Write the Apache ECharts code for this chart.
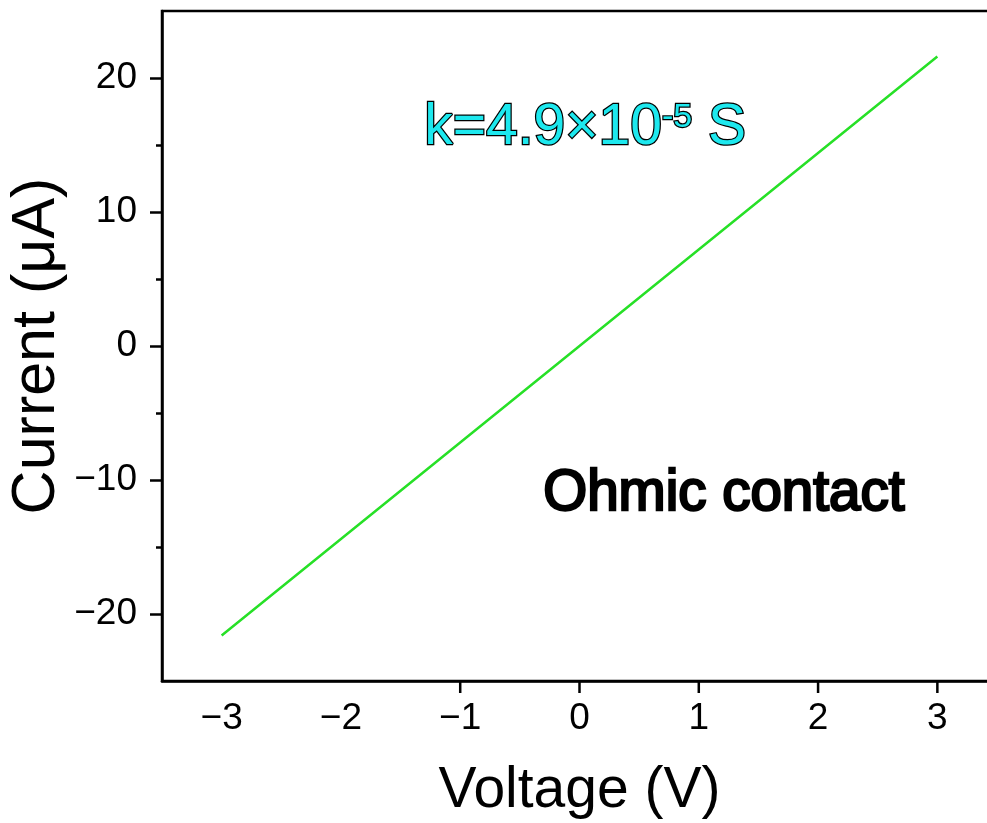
<!DOCTYPE html>
<html>
<head>
<meta charset="utf-8">
<script src="https://cdn.jsdelivr.net/npm/echarts@6/dist/echarts.min.js"></script>
<style>
	html, body { margin: 0; padding: 0; background: #fff; }
	#chart { width: 987px; height: 823px; }
</style>
</head>
<body>
<div id="chart"></div>
<script>
'use strict';

var voltage = [-3, -2, -1, 0, 1, 2, 3];
var current = [-21.6, -14.4, -7.2, 0, 7.2, 14.4, 21.6];
var xTicks = [-3, -2, -1, 0, 1, 2, 3];
var yTicks = [-20, -10, 0, 10, 20];
var yMinorTicks = [-15, -5, 5, 15];
var yMin = -25;

var FONT = 'Liberation Sans, Arial, sans-serif';

function minus(v) {
	return String(v).replace('-', '\u2212');
}

var chart = echarts.init(document.getElementById('chart'));

var points = voltage.map(function (v, i) {
	return [v, current[i]];
});

chart.setOption({
	animation: false,
	backgroundColor: '#fff',
	grid: {
		left: 162,
		width: 835,
		top: 11,
		bottom: 142,
		outerBoundsMode: 'none',
		containLabel: false,
		show: true,
		borderColor: '#000',
		borderWidth: 2.5,
		backgroundColor: 'transparent'
	},
	xAxis: {
		type: 'value',
		min: -3.5,
		max: 3.5,
		splitNumber: 7,
		name: 'Voltage (V)',
		nameLocation: 'middle',
		nameGap: 82,
		nameMoveOverlap: false,
		nameTextStyle: { fontFamily: FONT, fontSize: 57, color: '#000' },
		axisLine: { onZero: false, lineStyle: { color: '#000', width: 2.5 } },
		axisTick: { show: false },
		axisLabel: {
			fontFamily: FONT, fontSize: 37, color: '#000', margin: 19,
			showMinLabel: false, showMaxLabel: false,
			formatter: function (v) {
				return xTicks.indexOf(v) >= 0 ? minus(v) : '';
			}
		},
		splitLine: { show: false }
	},
	yAxis: [{
		type: 'value',
		min: yMin,
		max: 25,
		name: 'Current (\u03bcA)',
		nameLocation: 'middle',
		nameGap: 94,
		nameMoveOverlap: false,
		nameTextStyle: { fontFamily: FONT, fontSize: 61, color: '#000' },
		axisLine: { onZero: false, lineStyle: { color: '#000', width: 2.5 } },
		axisTick: { length: 12, inside: false, lineStyle: { width: 2.5, color: '#000' }, customValues: yTicks },
		axisLabel: { fontFamily: FONT, fontSize: 37, color: '#000', margin: 25, customValues: yTicks, formatter: minus },
		splitLine: { show: false }
	}, {
		type: 'value',
		position: 'left',
		min: yMin,
		max: 25,
		axisLine: { show: false, onZero: false },
		axisTick: { length: 6, inside: false, lineStyle: { width: 2.5, color: '#000' }, customValues: yMinorTicks },
		axisLabel: { show: false },
		splitLine: { show: false }
	}],
	series: [{
		type: 'line',
		data: points,
		showSymbol: false,
		lineStyle: { color: '#27e027', width: 2.5 },
		z: 3
	}],
	graphic: [{
		type: 'text',
		left: 423,
		top: 99,
		style: {
			text: '{m|k=4.9\u00d710}{s|-5}{m| S}',
			rich: {
				m: { fontFamily: FONT, fontSize: 57, fill: '#1de8ee' },
				s: { fontFamily: FONT, fontSize: 34, fill: '#1de8ee', verticalAlign: 'top' }
			}
		}
	}, {
		type: 'text',
		left: 542,
		top: 465,
		style: {
			text: 'Ohmic contact',
			fontFamily: FONT,
			fontSize: 56.5,
			fill: '#000'
		}
	}]
});

// x ticks below the bottom axis, placed through the axis scale
var tickMarks = xTicks.map(function (v) {
	var p = chart.convertToPixel({ xAxisIndex: 0, yAxisIndex: 0 }, [v, yMin]);
	return {
		type: 'line',
		z: 100,
		shape: { x1: p[0], y1: p[1], x2: p[0], y2: p[1] + 12 },
		style: { stroke: '#000', lineWidth: 2.5 }
	};
});
chart.setOption({
	graphic: [{
		type: 'group',
		id: 'xticks',
		children: tickMarks
	}]
});
</script>
</body>
</html>
